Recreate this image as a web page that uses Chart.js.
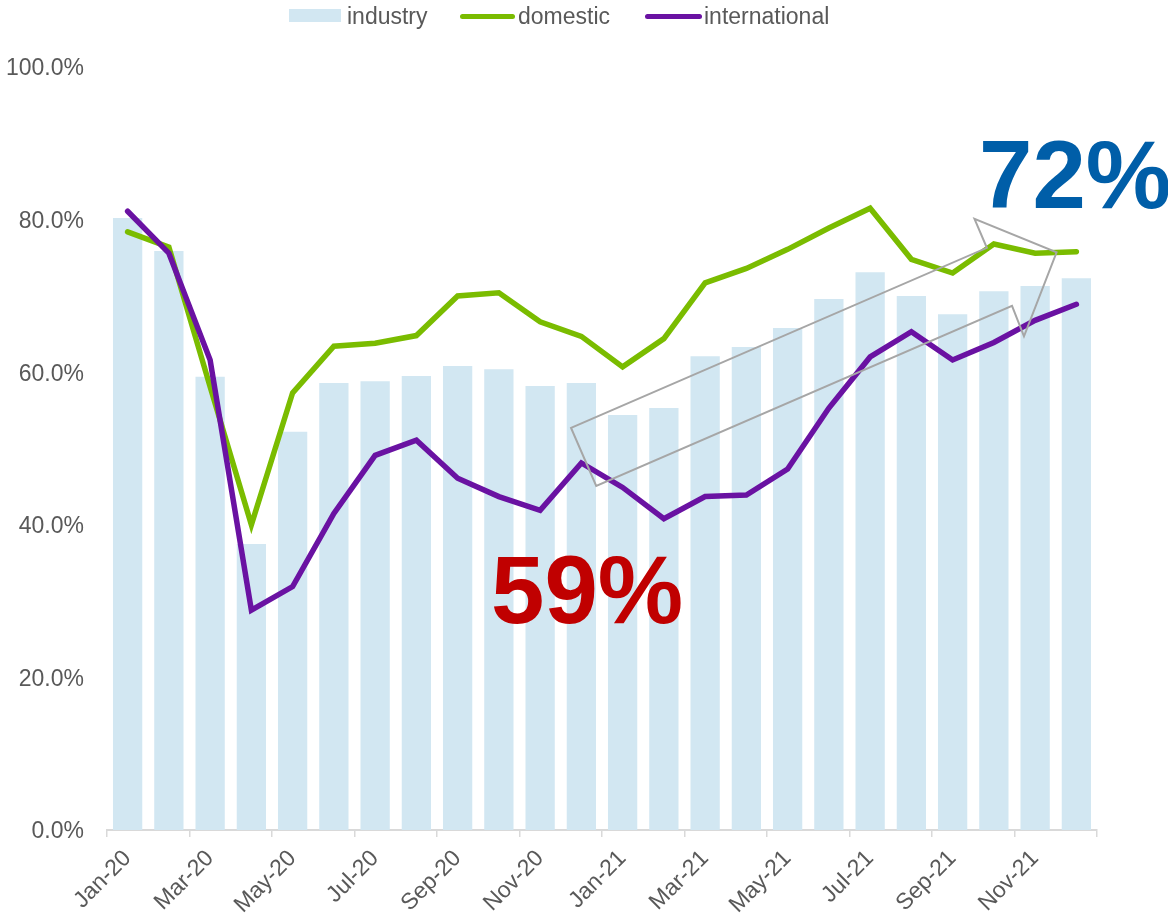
<!DOCTYPE html>
<html>
<head>
<title>Load factor</title>
<script src="https://cdn.jsdelivr.net/npm/chart.js@4.4.1/dist/chart.umd.min.js"></script>
<style>
  body {margin: 0; background: #fff;}
  #wrap {position: relative; width: 1168px; height: 914px;}
  #legend span {position: absolute; font: 23px "Liberation Sans", Arial, sans-serif; color: #595959; line-height: 24px; top: 4px;}
  #legend i {position: absolute; display: block;}
</style>
</head>
<body>
<div id="wrap">
  <div id="legend">
    <i style="left:289px; top:9px; width:52px; height:13px; background:#D2E7F2;"></i>
    <span style="left:347px;">industry</span>
    <i style="left:460px; top:14px; width:55px; height:5px; border-radius:3px; background:#7ABC00;"></i>
    <span style="left:518px;">domestic</span>
    <i style="left:645px; top:14px; width:57px; height:5px; border-radius:3px; background:#6A12A2;"></i>
    <span style="left:704px;">international</span>
  </div>
  <canvas id="lf" width="1168" height="914"></canvas>
</div>
<script>

var months = ['Jan-20','Feb-20','Mar-20','Apr-20','May-20','Jun-20','Jul-20','Aug-20','Sep-20','Oct-20','Nov-20','Dec-20',
              'Jan-21','Feb-21','Mar-21','Apr-21','May-21','Jun-21','Jul-21','Aug-21','Sep-21','Oct-21','Nov-21','Dec-21'];

// values in %
var industry = [80.2, 75.9, 59.4, 37.5, 52.2, 58.6, 58.8, 59.5, 60.8, 60.4, 58.2, 58.6,
                54.4, 55.3, 62.1, 63.3, 65.8, 69.6, 73.1, 70.0, 67.6, 70.6, 71.3, 72.3];
var domestic = [78.4, 76.4, 58.1, 40.0, 57.3, 63.4, 63.8, 64.8, 70.0, 70.4, 66.6, 64.7,
                60.7, 64.4, 71.7, 73.6, 76.1, 78.9, 81.5, 74.8, 73.0, 76.8, 75.6, 75.8];
var international = [81.1, 75.6, 61.6, 28.8, 31.9, 41.5, 49.1, 51.1, 46.1, 43.7, 41.9, 48.1,
                     44.9, 40.8, 43.7, 43.9, 47.3, 55.3, 62.0, 65.3, 61.6, 63.9, 66.8, 68.9];

var yTicks = [0, 20, 40, 60, 80, 100];

// hollow arrow outline, in (month index, %) units
var arrowIdx = [10.75, 20.83, 20.53, 22.52, 21.73, 21.44, 11.36];
var arrowPct = [52.7, 76.3, 80.1, 75.7, 64.7, 68.7, 45.1];

// big callouts: text, month index of left edge, % of baseline
var callouts = [
  {text: '59%', idx: 8.81, pct: 27.1, color: '#C00000'},
  {text: '72%', idx: 20.64, pct: 81.5, color: '#005EA8'}
];

var grey = '#595959';
var font = {family: '"Liberation Sans", Arial, sans-serif', size: 23};

//draws arrow + callout text on top of the series
var annotate = {
  id: 'annotate',
  afterDatasetsDraw: function(chart) {
    var ctx = chart.ctx, x = chart.scales.x, y = chart.scales.y;
    ctx.save();
    ctx.strokeStyle = '#A6A6A6';
    ctx.lineWidth = 2;
    ctx.beginPath();
    arrowIdx.forEach(function(v, i) {
      var px = x.getPixelForValue(v), py = y.getPixelForValue(arrowPct[i]);
      if (i === 0) ctx.moveTo(px, py); else ctx.lineTo(px, py);
    });
    ctx.closePath();
    ctx.stroke();

    ctx.font = 'bold 96px "Liberation Sans", Arial, sans-serif';
    ctx.textAlign = 'left';
    ctx.textBaseline = 'alphabetic';
    callouts.forEach(function(c) {
      ctx.fillStyle = c.color;
      ctx.fillText(c.text, x.getPixelForValue(c.idx), y.getPixelForValue(c.pct));
    });
    ctx.restore();
  }
};

new Chart(document.getElementById('lf'), {
  data: {
    labels: months,
    datasets: [
      {type: 'line', label: 'international', data: international, borderColor: '#6A12A2', borderWidth: 5.5,
       pointRadius: 0, tension: 0, borderCapStyle: 'round', order: 1},
      {type: 'line', label: 'domestic', data: domestic, borderColor: '#7ABC00', borderWidth: 5.5,
       pointRadius: 0, tension: 0, borderCapStyle: 'round', order: 2},
      {type: 'bar', label: 'industry', data: industry, backgroundColor: '#D2E7F2',
       barPercentage: 0.71, categoryPercentage: 1, order: 3}
    ]
  },
  options: {
    responsive: false,
    animation: false,
    layout: {padding: {top: 67, right: 71, left: 0, bottom: 0}},
    plugins: {legend: {display: false}, tooltip: {enabled: false}},
    scales: {
      x: {
        offset: true,
        grid: {
          display: true, offset: true, drawOnChartArea: false, drawTicks: true, tickLength: 7, lineWidth: 1.5,
          tickColor: function(c) { return (c.index === undefined || c.index % 2 === 0) ? '#D9D9D9' : 'rgba(0,0,0,0)'; }
        },
        border: {display: true, color: '#D9D9D9', width: 2},
        ticks: {
          autoSkip: false, minRotation: 45, maxRotation: 45, padding: 8, color: grey, font: font,
          callback: function(v, i) { return i % 2 === 0 ? months[i] : ''; }
        },
        afterFit: function(s) { s.height = 84; }
      },
      y: {
        min: 0, max: 100,
        grid: {display: false},
        border: {display: false},
        afterBuildTicks: function(s) { s.ticks = yTicks.map(function(v) { return {value: v}; }); },
        ticks: {padding: 15, labelOffset: 2, color: grey, font: font,
          callback: function(v) { return v.toFixed(1) + '%'; }},
        afterFit: function(s) { s.width = 107; }
      }
    }
  },
  plugins: [annotate]
});

</script>
</body>
</html>
